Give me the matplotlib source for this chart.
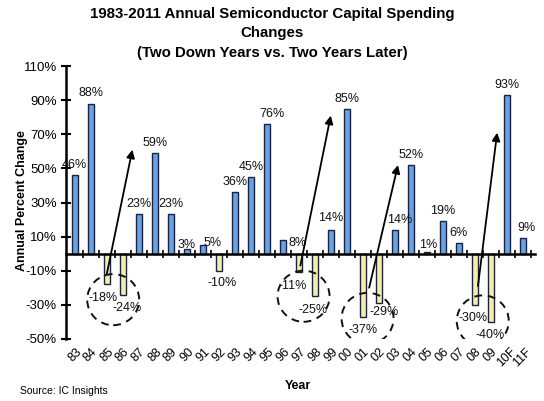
import matplotlib
matplotlib.use("Agg")
import matplotlib.pyplot as plt
from matplotlib.patches import Ellipse
import numpy as np

plt.rcParams['font.family'] = ['Liberation Sans', 'DejaVu Sans']

years = ["83", "84", "85", "86", "87", "88", "89", "90", "91", "92", "93", "94", "95", "96",
         "97", "98", "99", "00", "01", "02", "03", "04", "05", "06", "07", "08", "09", "10F", "11F"]
values = [46, 88, -18, -24, 23, 59, 23, 3, 5, -10, 36, 45, 76, 8,
          -11, -25, 14, 85, -37, -29, 14, 52, 1, 19, 6, -30, -40, 93, 9]
yticks = [-50, -30, -10, 10, 30, 50, 70, 90, 110]

# label nudges (layout only): index -> (dx in category units, y in %)
label_pos = {
    2: (-0.25, -26), 3: (0.3, -32), 7: (0.0, 5), 8: (0.6, 6), 9: (0.2, -17),
    12: (0.3, None), 13: (0.95, 6), 14: (-0.35, -19), 15: (-0.1, -33), 16: (0.0, 21),
    18: (0.0, -45), 19: (0.35, -34), 20: (0.3, None), 22: (0.1, 5), 25: (-0.1, -38),
    26: (-0.05, -48), 28: (0.25, None),
}

# arrows: (start index, start %, end index, end %)
arrows = [(2.0, -12, 3.6, 61), (14.1, -7, 16.0, 81), (18.4, -20, 20.2, 52), (25.2, -19, 26.4, 71)]
# circles: (centre index, centre %)
circles = [(2.4, -27), (14.3, -25), (18.3, -38), (25.5, -39.5)]

fig = plt.figure(figsize=(5.44, 4.01), dpi=100)
ax = fig.add_axes([0.121, 0.155, 0.862, 0.68])

x = np.arange(len(years))
pos_col = '#66a3e6'
neg_col = '#f3efa6'
cols = [pos_col if v >= 0 else neg_col for v in values]
ax.bar(x, values, width=0.4, color=cols, edgecolor='#1c2340', linewidth=1.0, zorder=2)

for i, v in enumerate(values):
    dx, yy = label_pos.get(i, (0.0, None))
    if yy is None:
        yy = v + 2.5 if v >= 0 else v - 3
        va = 'bottom' if v >= 0 else 'top'
    else:
        va = 'center'
    ax.text(i + dx, yy, f"{v}%", ha='center', va=va, fontsize=9, color='#111111', zorder=4)

ax.set_xlim(-0.56, 28.75)
ax.set_ylim(-50, 110)
ax.set_yticks(yticks)
ax.set_yticklabels([f"{t}%" for t in yticks], fontsize=9.5)
ax.tick_params(axis='y', direction='inout', length=7, width=1.5, pad=3)

for s in ['top', 'right']:
    ax.spines[s].set_visible(False)
ax.spines['left'].set_linewidth(1.8)
ax.spines['bottom'].set_position(('data', 0))
ax.spines['bottom'].set_linewidth(1.8)
ax.set_xticks(x + 0.5)
ax.set_xticklabels([])
ax.tick_params(axis='x', direction='inout', length=6, width=1.2)

sec = ax.secondary_xaxis('bottom')
sec.set_xticks(x)
sec.set_xticklabels(years, rotation=45, fontsize=9, ha='center', va='top')
sec.tick_params(length=0, pad=5)
sec.spines['bottom'].set_visible(False)

for x0, y0, x1, y1 in arrows:
    ax.annotate("", xy=(x1, y1), xytext=(x0, y0),
                arrowprops=dict(arrowstyle='-|>', color='black', lw=1.3,
                                mutation_scale=12, shrinkA=0, shrinkB=0), zorder=5)

for cx, cy in circles:
    ax.add_patch(Ellipse((cx, cy), width=3.25, height=30, fill=False, edgecolor='#111111',
                         linestyle=(0, (4, 3)), linewidth=1.4, zorder=5))

fig.text(0.5, 0.983, "1983-2011 Annual Semiconductor Capital Spending\nChanges\n(Two Down Years vs. Two Years Later)",
         ha='center', va='top', fontsize=10.8, fontweight='bold', linespacing=1.5)
fig.text(0.04, 0.50, "Annual Percent Change", rotation=90, ha='center', va='center',
         fontsize=9, fontweight='bold')
fig.text(0.548, 0.037, "Year", ha='center', va='center', fontsize=9, fontweight='bold')
fig.text(0.037, 0.025, "Source: IC Insights", ha='left', va='center', fontsize=7.5)

fig.savefig("out.png", dpi=100)
